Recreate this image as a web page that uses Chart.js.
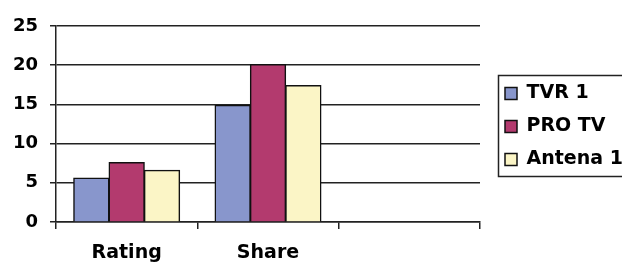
<!DOCTYPE html>
<html>
<head>
<meta charset="utf-8">
<script src="https://cdn.jsdelivr.net/npm/chart.js@4"></script>
<style>
  html, body { margin: 0; padding: 0; background: #fff; }
  canvas { display: block; }
</style>
</head>
<body>
<canvas id="audienceChart" width="622" height="264"></canvas>
<script>
const categories = ['Rating', 'Share', ''];
const tvr1 = [5.6, 14.9, null];
const proTv = [7.6, 20.1, null];
const antena1 = [6.6, 17.4, null];
const seriesNames = ['TVR 1', 'PRO TV', 'Antena 1'];
const seriesColors = ['#8896CC', '#B33A6E', '#FBF5C6'];

const lineColor = '#222';

// legend sits a bit off the plot and gets a frame, like the original
const legendFrame = {
  id: 'legendFrame',
  afterLayout(chart) {
    const lg = chart.legend;
    lg.left += 11;
    lg.right += 11;
    lg.top = 68;
    lg.bottom = 185;
    lg.height = lg.bottom - lg.top;
  },
  afterDraw(chart) {
    const lg = chart.legend;
    const c = chart.ctx;
    c.save();
    c.strokeStyle = lineColor;
    c.lineWidth = 1.5;
    c.strokeRect(lg.left + 7.5, lg.top + 7.5, 300, 101);
    c.restore();
  }
};

const ctx = document.getElementById('audienceChart');

const chart = new Chart(ctx, {
  type: 'bar',
  data: {
    labels: categories,
    datasets: [tvr1, proTv, antena1].map((vals, i) => ({
      label: seriesNames[i],
      data: vals,
      backgroundColor: seriesColors[i],
      borderColor: '#111',
      borderWidth: 1.5,
      inflateAmount: 0.5,
      categoryPercentage: 0.75,
      barPercentage: 1
    }))
  },
  options: {
    responsive: false,
    animation: false,
    devicePixelRatio: 1,
    layout: { padding: { top: 26, right: 6, left: 0, bottom: 0 } },
    plugins: {
      tooltip: { enabled: false },
      legend: {
        position: 'right',
        maxWidth: 136,
        labels: {
          boxWidth: 12,
          boxHeight: 12,
          padding: 14,
          color: '#000',
          font: { family: 'DejaVu Sans', size: 19, weight: 'bold' }
        }
      }
    },
    scales: {
      x: {
        grid: {
          drawOnChartArea: false,
          drawTicks: true,
          tickLength: 7,
          color: lineColor,
          lineWidth: 1.5,
          offset: true
        },
        border: { display: true, color: lineColor, width: 1.5 },
        ticks: {
          padding: 13,
          color: '#000',
          font: { family: 'DejaVu Sans', size: 19, weight: 'bold' }
        },
        afterFit(scale) { scale.height = 42; }
      },
      y: {
        min: 0,
        max: 25,
        grid: {
          color: lineColor,
          lineWidth: 1.5,
          tickLength: 6
        },
        border: { display: true, color: lineColor, width: 1.5 },
        ticks: {
          stepSize: 5,
          padding: 12,
          color: '#000',
          font: { family: 'DejaVu Sans', size: 18, weight: 'bold' }
        },
        afterFit(scale) { scale.width = 56; }
      }
    }
  },
  plugins: [legendFrame]
});
</script>
</body>
</html>
